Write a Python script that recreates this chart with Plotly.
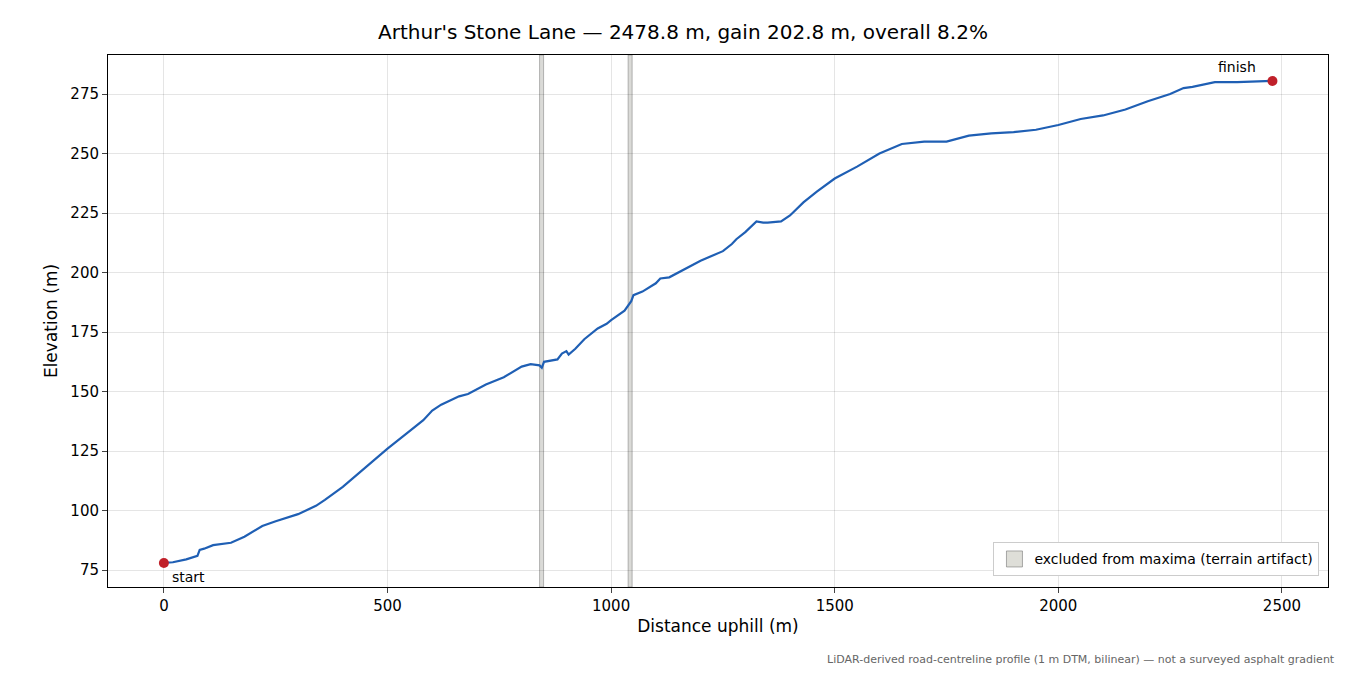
import plotly.graph_objects as go

dist = [0, 20, 50, 75, 80, 90, 110, 150, 180, 220, 250, 300, 340, 360, 400, 450, 500, 550, 580, 600,
        620, 660, 680, 720, 760, 800, 820, 840, 845, 850, 880, 890, 900, 905, 920, 940, 970, 990, 1000,
        1030, 1045, 1050, 1070, 1100, 1110, 1130, 1160, 1200, 1250, 1270, 1280, 1300, 1325, 1340, 1350,
        1380, 1400, 1430, 1460, 1500, 1550, 1600, 1650, 1700, 1750, 1800, 1850, 1900, 1950, 2000, 2050,
        2100, 2150, 2200, 2250, 2280, 2300, 2350, 2400, 2450, 2478.8]
elev = [78, 78.3, 79.5, 81, 83.5, 84, 85.5, 86.5, 89, 93.5, 95.5, 98.5, 102, 104.5, 110, 118, 126, 133.5, 138, 142,
        144.5, 148, 149, 153, 156, 160.5, 161.5, 161, 160, 162.5, 163.5, 166, 167, 165.5, 168, 172, 176.5, 178.5, 180,
        184, 188, 190.5, 192, 195.5, 197.5, 198, 201, 205, 209, 212, 214, 217, 221.5, 221, 221,
        221.5, 224, 229.5, 234, 239.5, 244.5, 250, 254, 255, 255, 257.5, 258.5, 259, 260, 262, 264.5,
        266, 268.5, 272, 275, 277.5, 278, 280, 280, 280.5, 280.5]
excluded = [(840, 849), (1038, 1047)]
x_ticks = [0, 500, 1000, 1500, 2000, 2500]
y_ticks = [75, 100, 125, 150, 175, 200, 225, 250, 275]

fig = go.Figure()

for a, b in excluded:
    fig.add_vrect(x0=a, x1=b, fillcolor="rgba(150,150,140,0.35)", line=dict(color="rgba(120,120,120,0.5)", width=1),
                  layer="below")
# legend proxy for the shaded bands
fig.add_trace(go.Scatter(x=[None], y=[None], mode="markers", name="excluded from maxima (terrain artifact)",
                         marker=dict(symbol="square", size=16, color="rgba(200,200,190,0.6)",
                                     line=dict(color="rgba(120,120,120,0.6)", width=1))))

fig.add_trace(go.Scatter(x=dist, y=elev, mode="lines", line=dict(color="#1f5fb4", width=2.2), showlegend=False))
fig.add_trace(go.Scatter(x=[dist[0], dist[-1]], y=[elev[0], elev[-1]], mode="markers",
                         marker=dict(color="#c0202a", size=10), showlegend=False))

fig.add_annotation(x=dist[0], y=elev[0], text="start", showarrow=False, xanchor="left", yanchor="top",
                   xshift=6, yshift=-4, font=dict(size=14))
fig.add_annotation(x=dist[-1], y=elev[-1], text="finish", showarrow=False, xanchor="right", yanchor="bottom",
                   xshift=-14, yshift=4, font=dict(size=14))
fig.add_annotation(xref="paper", yref="paper", x=1.007, y=-0.12, text="LiDAR-derived road-centreline profile (1 m DTM, bilinear) — not a surveyed asphalt gradient",
                   showarrow=False, xanchor="right", yanchor="top", font=dict(size=11, color="#666"))

axis = dict(showline=True, linecolor="black", mirror=True, ticks="outside", ticklen=5,
            gridcolor="rgba(0,0,0,0.1)", zeroline=False, tickfont=dict(size=15), title_font=dict(size=17))
fig.update_layout(
    width=1350, height=675, plot_bgcolor="white", paper_bgcolor="white",
    font=dict(family="DejaVu Sans", color="black"),
    title=dict(text="Arthur's Stone Lane — 2478.8 m, gain 202.8 m, overall 8.2%", x=0.5, y=0.975,
               font=dict(size=20)),
    margin=dict(l=100, r=30, t=47, b=96),
    xaxis=dict(axis, range=[-125, 2603], tickvals=x_ticks, title=dict(text="Distance uphill (m)", standoff=6)),
    yaxis=dict(axis, range=[67.9, 291.4], tickvals=y_ticks, title=dict(text="Elevation (m)", standoff=8)),
    legend=dict(x=0.993, y=0.02, xanchor="right", yanchor="bottom", bordercolor="#ccc", borderwidth=1,
                font=dict(size=14)),
)

fig.write_html("out.html")
